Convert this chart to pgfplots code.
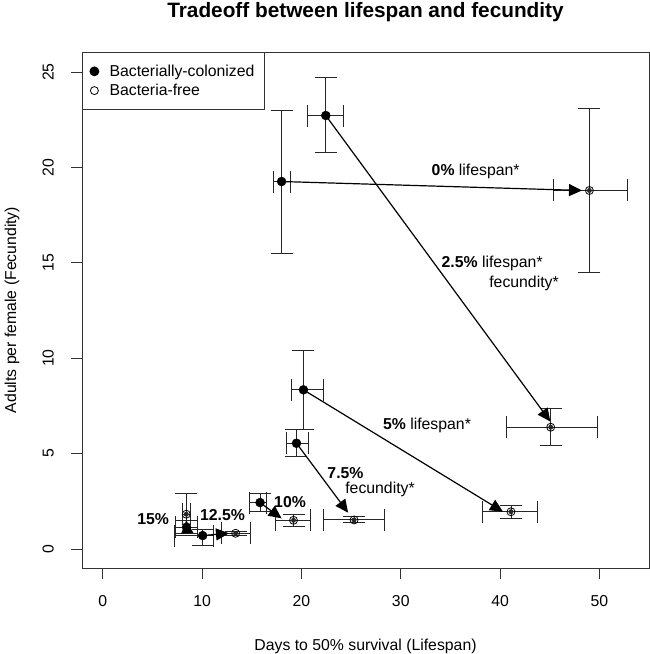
\documentclass[border=0pt]{standalone}
\usepackage{pgfplots}
\pgfplotsset{compat=1.18}
\usepackage{pgfplotstable}
\usepackage{fontspec}
\setmainfont{Liberation Sans}
\usetikzlibrary{arrows.meta}

\pgfplotstableread{
x y xm xp ym yp
18.0 19.26 0.8 0.85 3.76 3.71
22.45 22.72 1.82 1.75 1.92 1.99
20.2 8.34 1.25 2.0 2.06 2.06
19.5 5.54 1.05 1.2 0.70 0.70
15.83 2.43 1.08 0.67 0.47 0.49
10.05 0.70 2.79 1.05 0.54 0.33
8.43 1.14 1.07 1.07 0.35 0.35
}\colonized

\pgfplotstableread{
x y xm xp ym yp
49.0 18.79 3.6 3.8 4.28 4.32
45.1 6.38 4.5 4.7 0.98 0.96
41.1 1.95 2.9 2.7 0.35 0.35
25.3 1.52 3.1 3.1 0.14 0.17
19.2 1.50 1.8 1.7 0.30 0.32
13.37 0.82 1.47 1.53 0.10 0.10
8.40 1.82 0.4 0.4 1.0 1.10
}\free

\begin{document}
\begin{tikzpicture}
\useasboundingbox (0,0) rectangle (650bp,654bp);
\begin{axis}[
  at={(82bp,86bp)}, anchor=south west,
  scale only axis, width=567bp, height=516bp,
  xmin=-2.1, xmax=55.0, ymin=-1.0, ymax=26.05,
  xtick={0,10,...,50}, ytick={0,5,...,25},
  xtick pos=bottom, ytick pos=left,
  tick align=outside, major tick length=11bp,
  tick style={black!80, line width=0.8bp},
  axis line style={black!80, line width=0.9bp},
  font=\fontsize{15.8bp}{18bp}\selectfont,
  /pgf/number format/assume math mode=true,
  yticklabel style={xshift=-17bp, rotate=90, anchor=south, inner sep=0pt},
  xticklabel style={anchor=north, inner sep=0pt},
  xticklabel shift=16bp,
  xlabel={Days to 50\% survival (Lifespan)},
  ylabel={Adults per female (Fecundity)},
  xlabel style={at={(axis description cs:0.5,-0.151)}, anchor=center},
  ylabel style={at={(axis description cs:-0.1235,0.5)}, anchor=center},
  title={Tradeoff between lifespan and fecundity},
  title style={at={(axis description cs:0.5,1.0775)}, anchor=center, yshift=-6pt, font=\bfseries\fontsize{20.8bp}{24bp}\selectfont},
  legend style={at={(0,1)}, anchor=north west, draw=black!80, line width=0.8bp,
    inner xsep=7.5bp, inner ysep=10.5bp, row sep=2.3bp,
    font=\fontsize{15.8bp}{18bp}\selectfont, cells={anchor=west},
    /tikz/every odd column/.append style={column sep=8.7bp}},
  legend cell align=left,
  clip=false,
]
% error bars
\pgfplotsset{eb/.style={only marks, mark=none, forget plot, black!85, line width=0.9bp,
  error bars/.cd, x dir=both, x explicit, y dir=both, y explicit,
  error bar style={black!85, line width=0.9bp},
  error mark options={rotate=90, black!85, mark size=11bp, line width=0.9bp}}}
\addplot[eb] table[x=x, y=y, x error minus=xm, x error plus=xp, y error minus=ym, y error plus=yp] {\colonized};
\addplot[eb] table[x=x, y=y, x error minus=xm, x error plus=xp, y error minus=ym, y error plus=yp] {\free};
% arrows
\pgfplotsset{arr/.style={forget plot, black, line width=1.2bp, -{Triangle[length=13bp,width=12bp]}}}
\addplot[arr] coordinates {(18.0,19.26) (48.25,18.79)};
\addplot[arr] coordinates {(22.45,22.72) (45.06,6.68)};
\addplot[arr] coordinates {(20.2,8.34) (40.3,1.95)};
\addplot[arr] coordinates {(19.5,5.54) (24.7,1.9)};
\addplot[arr] coordinates {(15.83,2.43) (18.0,1.6)};
\addplot[arr] coordinates {(10.05,0.70) (12.7,0.82)};
\addplot[arr] coordinates {(8.45,1.14) (8.4,1.5)};
% points
\addplot[only marks, mark=*, mark size=4.5bp, black, mark options={fill=black}] table[x=x,y=y] {\colonized};
\addlegendentry{Bacterially-colonized}
\addplot[only marks, mark=o, mark size=4bp, black, mark options={line width=0.8bp, fill=none}] table[x=x,y=y] {\free};
\addlegendentry{Bacteria-free}
% labels
\node[anchor=west, inner sep=0pt] at (axis cs:33.1,19.77) {\textbf{0\%} lifespan*};
\node[anchor=west, inner sep=0pt] at (axis cs:34.1,14.98) {\textbf{2.5\%} lifespan*};
\node[anchor=west, inner sep=0pt] at (axis cs:38.9,13.93) {fecundity*};
\node[anchor=west, inner sep=0pt] at (axis cs:28.2,6.5) {\textbf{5\%} lifespan*};
\node[anchor=west, inner sep=0pt] at (axis cs:22.6,3.97) {\textbf{7.5\%}};
\node[anchor=west, inner sep=0pt] at (axis cs:24.4,3.13) {fecundity*};
\node[anchor=west, inner sep=0pt] at (axis cs:17.24,2.48) {\textbf{10\%}};
\node[anchor=west, inner sep=0pt] at (axis cs:9.78,1.78) {\textbf{12.5\%}};
\node[anchor=west, inner sep=0pt] at (axis cs:3.46,1.56) {\textbf{15\%}};
\end{axis}
\end{tikzpicture}
\end{document}
